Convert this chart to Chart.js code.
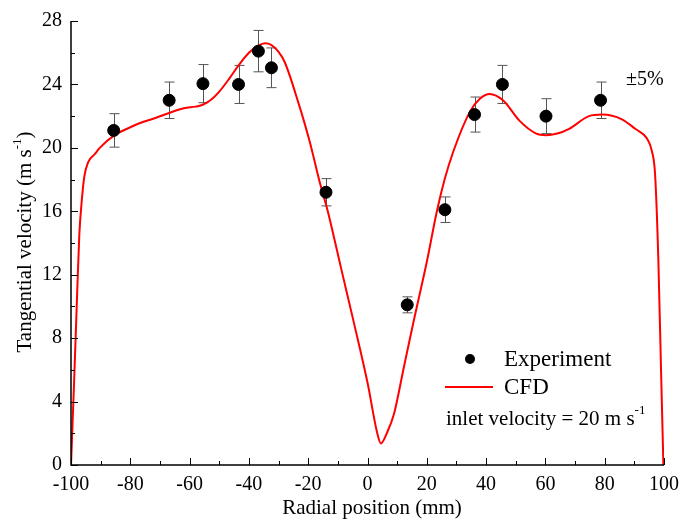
<!DOCTYPE html>
<html>
<head>
<meta charset="utf-8">
<script src="https://cdn.jsdelivr.net/npm/chart.js@4.4.0/dist/chart.umd.min.js"></script>
<style>
  html, body { margin: 0; padding: 0; background: #fff; }
  #wrap { width: 687px; height: 522px; }
</style>
</head>
<body>
<div id="wrap"><canvas id="myChart" width="687" height="522"></canvas></div>
<script>
// datos experimentales (posicion radial en mm, velocidad en m/s)
var expX = [-85.6, -66.9, -55.5, -43.5, -36.8, -32.4, -14.0, 13.4, 26.1, 36.1, 45.5, 60.2, 78.6];
var expY = [21.1, 23.0, 24.05, 24.0, 26.1, 25.05, 17.2, 10.1, 16.1, 22.1, 24.0, 22.0, 23.0];
var errPct = 0.05;

// curva CFD
var cfdX = [-100, -99, -98, -97.2, -96.4, -95.5, -94.2, -92, -90.3, -85.3, -80, -76.9, -71.3, -66.9, -61.9, -58, -55.8, -53, -50.2, -46.5, -43.5, -40, -36.8, -34.6, -32.5, -30, -27.9, -23.4, -19.5, -16.2, -13.4, -8.9, -4.5, 0, 3.3, 4.5, 6.5, 8.9, 12.3, 15.6, 20.1, 23.4, 26, 29, 34.6, 37.9, 41.2, 45.7, 51.3, 56.9, 60.2, 64, 68, 74.7, 79.2, 85.8, 90.3, 94.2, 95.9, 97, 98.1, 99, 99.8];
var cfdY = [0, 5, 10.4, 14.5, 16.6, 18.2, 19.1, 19.6, 20.0, 20.8, 21.3, 21.55, 21.9, 22.2, 22.5, 22.6, 22.7, 23.0, 23.5, 24.4, 25.2, 26.0, 26.45, 26.6, 26.5, 26.05, 25.4, 22.9, 20.4, 17.9, 16.0, 12.4, 8.9, 5.2, 2.0, 1.36, 2.0, 3.2, 6.2, 9.1, 12.9, 16.0, 18.0, 19.8, 22.3, 23.1, 23.4, 23.0, 21.7, 20.9, 20.8, 20.9, 21.2, 22.0, 22.1, 21.8, 21.2, 20.6, 19.8, 18.3, 12.9, 6.0, 0];

var xMin = -100, xMax = 100, xStep = 20, xMinor = 10;
var yMin = 0, yMax = 28, yStep = 4, yMinor = 2;

var serif = "'Liberation Serif', 'Times New Roman', serif";

var expPoints = expX.map(function (x, i) { return {x: x, y: expY[i]}; });
var cfdPoints = cfdX.map(function (x, i) { return {x: x, y: cfdY[i]}; });

// barras de error +-5%
var errorBars = {
  id: 'errorBars',
  beforeDatasetsDraw: function (chart) {
    var ctx = chart.ctx, xs = chart.scales.x, ys = chart.scales.y;
    ctx.save();
    ctx.strokeStyle = '#555';
    ctx.lineWidth = 1;
    for (var i = 0; i < expX.length; i++) {
      var px = Math.round(xs.getPixelForValue(expX[i])) + 0.5;
      var top = ys.getPixelForValue(expY[i] * (1 + errPct));
      var bot = ys.getPixelForValue(expY[i] * (1 - errPct));
      ctx.beginPath();
      ctx.moveTo(px, top); ctx.lineTo(px, bot);
      ctx.moveTo(px - 5, top); ctx.lineTo(px + 5, top);
      ctx.moveTo(px - 5, bot); ctx.lineTo(px + 5, bot);
      ctx.stroke();
    }
    ctx.restore();
  }
};

// ejes, ticks hacia adentro, titulos y leyenda
var decorations = {
  id: 'decorations',
  afterDraw: function (chart) {
    var ctx = chart.ctx, xs = chart.scales.x, ys = chart.scales.y, a = chart.chartArea;
    ctx.save();
    ctx.strokeStyle = '#000';
    ctx.lineWidth = 1.5;
    ctx.beginPath();
    ctx.moveTo(a.left, a.top); ctx.lineTo(a.left, a.bottom); ctx.lineTo(a.right, a.bottom);
    ctx.stroke();

    ctx.lineWidth = 1;
    ctx.beginPath();
    for (var v = yMin; v <= yMax; v += yMinor) {
      var py = Math.round(ys.getPixelForValue(v)) + 0.5;
      var len = (v % yStep === 0) ? 7 : 4;
      ctx.moveTo(a.left, py); ctx.lineTo(a.left + len, py);
    }
    for (var u = xMin; u <= xMax; u += xMinor) {
      var px = Math.round(xs.getPixelForValue(u)) + 0.5;
      var l2 = (u % xStep === 0) ? 7 : 4;
      ctx.moveTo(px, a.bottom); ctx.lineTo(px, a.bottom - l2);
    }
    ctx.stroke();

    ctx.fillStyle = '#000';
    ctx.textBaseline = 'middle';

    // titulo eje x
    ctx.font = '21px ' + serif;
    ctx.textAlign = 'center';
    ctx.fillText('Radial position (mm)', 372, 508);

    // titulo eje y con superindice
    ctx.save();
    ctx.translate(25, 242);
    ctx.rotate(-Math.PI / 2);
    ctx.textAlign = 'left';
    var t1 = 'Tangential velocity (m s', sup = '-1', t2 = ')';
    ctx.font = '21px ' + serif;
    var w1 = ctx.measureText(t1).width, w3 = ctx.measureText(t2).width;
    ctx.font = '13px ' + serif;
    var w2 = ctx.measureText(sup).width;
    var x0 = -(w1 + w2 + w3) / 2;
    ctx.font = '21px ' + serif;
    ctx.fillText(t1, x0, 0);
    ctx.font = '13px ' + serif;
    ctx.fillText(sup, x0 + w1, -7);
    ctx.font = '21px ' + serif;
    ctx.fillText(t2, x0 + w1 + w2, 0);
    ctx.restore();

    // leyenda
    ctx.textAlign = 'left';
    ctx.beginPath();
    ctx.arc(470, 359, 5, 0, Math.PI * 2);
    ctx.fill();
    ctx.font = '23px ' + serif;
    ctx.fillText('Experiment', 504, 360);
    ctx.strokeStyle = '#ff0000';
    ctx.lineWidth = 2;
    ctx.beginPath();
    ctx.moveTo(445, 387); ctx.lineTo(493, 387);
    ctx.stroke();
    ctx.fillText('CFD', 504, 388);

    ctx.font = '21px ' + serif;
    var t3 = 'inlet velocity = 20 m s';
    ctx.fillText(t3, 446, 419);
    var w4 = ctx.measureText(t3).width;
    ctx.font = '13px ' + serif;
    ctx.fillText('-1', 446 + w4, 411);

    ctx.font = '20px ' + serif;
    ctx.fillText('\u00b15%', 626, 80);
    ctx.restore();
  }
};

var ctx = document.getElementById('myChart');
var myChart = new Chart(ctx, {
  type: 'scatter',
  data: {
    datasets: [{
      label: 'Experiment',
      data: expPoints,
      backgroundColor: '#000',
      borderColor: '#000',
      pointRadius: 6,
      pointHoverRadius: 6,
      order: 0
    }, {
      label: 'CFD',
      data: cfdPoints,
      showLine: true,
      borderColor: '#ff0000',
      borderWidth: 2,
      pointRadius: 0,
      cubicInterpolationMode: 'monotone',
      order: 1
    }]
  },
  options: {
    responsive: false,
    animation: false,
    layout: { padding: { top: 19, right: 18, left: 0, bottom: 0 } },
    plugins: { legend: { display: false }, tooltip: { enabled: false } },
    scales: {
      x: {
        type: 'linear', min: xMin, max: xMax,
        grid: { display: false, drawTicks: false },
        border: { display: false },
        ticks: { stepSize: xStep, padding: 8, color: '#000', font: { family: serif, size: 20 } },
        afterFit: function (s) { s.height = 57; }
      },
      y: {
        type: 'linear', min: yMin, max: yMax,
        grid: { display: false, drawTicks: false },
        border: { display: false },
        ticks: { stepSize: yStep, padding: 9, color: '#000', font: { family: serif, size: 20 } },
        afterFit: function (s) { s.width = 71; }
      }
    }
  },
  plugins: [errorBars, decorations]
});
</script>
</body>
</html>
